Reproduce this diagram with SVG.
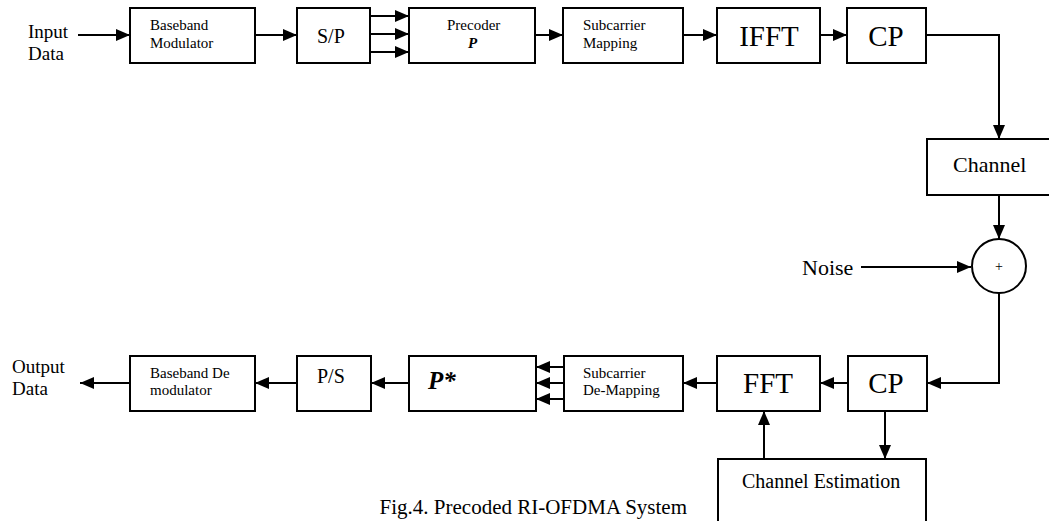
<svg xmlns="http://www.w3.org/2000/svg" width="1049" height="521" viewBox="0 0 1049 521">
<defs>
<marker id="ah" markerUnits="userSpaceOnUse" markerWidth="14" markerHeight="12" viewBox="0 0 14 12" refX="14" refY="6" orient="auto">
<path d="M0,0 L14,6 L0,12 z" fill="#000"/>
</marker>
</defs>
<style>
.box{fill:#fff;stroke:#000;stroke-width:2}
.ln{fill:none;stroke:#000;stroke-width:2;marker-end:url(#ah)}
text{font-family:"Liberation Serif","Times New Roman",serif;fill:#000}
.s{font-size:15px}
.m{font-size:20px}
.l{font-size:29px}
.bi{font-weight:bold;font-style:italic}
</style>
<rect width="1049" height="521" fill="#fff"/>
<g id="connectors">
<line class="ln" x1="78" y1="35" x2="130" y2="35"/>
<line class="ln" x1="255" y1="35" x2="297" y2="35"/>
<line class="ln" x1="370" y1="16" x2="409" y2="16"/>
<line class="ln" x1="370" y1="34" x2="409" y2="34"/>
<line class="ln" x1="370" y1="52" x2="409" y2="52"/>
<line class="ln" x1="535" y1="35" x2="563" y2="35"/>
<line class="ln" x1="683" y1="35" x2="717" y2="35"/>
<line class="ln" x1="820" y1="35" x2="847" y2="35"/>
<path class="ln" d="M926,35 H999 V139"/>
<line class="ln" x1="999" y1="195" x2="999" y2="239"/>
<line class="ln" x1="861" y1="267" x2="971" y2="267"/>
<path class="ln" d="M999,293 V383 H927"/>
<line class="ln" x1="848" y1="383" x2="820" y2="383"/>
<line class="ln" x1="885" y1="411" x2="885" y2="459"/>
<line class="ln" x1="764" y1="459" x2="764" y2="411"/>
<line class="ln" x1="717" y1="383" x2="683" y2="383"/>
<line class="ln" x1="564" y1="367" x2="536" y2="367"/>
<line class="ln" x1="564" y1="383" x2="536" y2="383"/>
<line class="ln" x1="564" y1="399" x2="536" y2="399"/>
<line class="ln" x1="409" y1="383" x2="371" y2="383"/>
<line class="ln" x1="297" y1="383" x2="255" y2="383"/>
<line class="ln" x1="130" y1="383" x2="80" y2="383"/>
</g>
<g id="input-label"><text x="28" y="38" font-size="19">Input</text><text x="28" y="60" font-size="19">Data</text></g>
<g id="bb-mod"><rect class="box" x="130" y="8" width="125" height="55"/><text class="s" x="150" y="30">Baseband</text><text class="s" x="150" y="48">Modulator</text></g>
<g id="sp"><rect class="box" x="297" y="8" width="73" height="55"/><text class="m" x="317" y="43">S/P</text></g>
<g id="precoder"><rect class="box" x="409" y="8" width="126" height="55"/><text class="s" x="447" y="30">Precoder</text><text class="s bi" x="468" y="48">P</text></g>
<g id="sub-map"><rect class="box" x="563" y="8" width="120" height="55"/><text class="s" x="583" y="30">Subcarrier</text><text class="s" x="583" y="48">Mapping</text></g>
<g id="ifft"><rect class="box" x="717" y="8" width="103" height="55"/><text class="l" x="769" y="46" text-anchor="middle">IFFT</text></g>
<g id="cp-tx"><rect class="box" x="847" y="8" width="79" height="55"/><text class="l" x="886" y="46" text-anchor="middle">CP</text></g>
<g id="channel"><rect class="box" x="927" y="139" width="140" height="56"/><text x="953" y="172" font-size="22">Channel</text></g>
<g id="adder"><circle cx="999" cy="266" r="27" fill="#fff" stroke="#000" stroke-width="2"/><text x="999" y="271" font-size="14" text-anchor="middle">+</text></g>
<g id="noise"><text x="802" y="275" font-size="22">Noise</text></g>
<g id="cp-rx"><rect class="box" x="848" y="356" width="79" height="55"/><text class="l" x="886" y="393" text-anchor="middle">CP</text></g>
<g id="fft"><rect class="box" x="717" y="356" width="103" height="55"/><text class="l" x="768" y="393" text-anchor="middle">FFT</text></g>
<g id="ch-est"><rect class="box" x="718" y="459" width="208" height="80"/><text class="m" x="742" y="488">Channel Estimation</text></g>
<g id="sub-demap"><rect class="box" x="564" y="356" width="119" height="55"/><text class="s" x="583" y="378">Subcarrier</text><text class="s" x="583" y="395">De-Mapping</text></g>
<g id="pstar"><rect class="box" x="409" y="356" width="127" height="55"/><text class="bi" x="428" y="389" font-size="25">P*</text></g>
<g id="ps"><rect class="box" x="297" y="356" width="74" height="55"/><text class="m" x="317" y="383">P/S</text></g>
<g id="bb-demod"><rect class="box" x="130" y="356" width="125" height="55"/><text class="s" x="150" y="378">Baseband De</text><text class="s" x="150" y="395">modulator</text></g>
<g id="output-label"><text x="12" y="373" font-size="19">Output</text><text x="12" y="395" font-size="19">Data</text></g>
<g id="caption"><text x="687" y="514" font-size="21" text-anchor="end">Fig.4. Precoded RI-OFDMA System</text></g>
</svg>
